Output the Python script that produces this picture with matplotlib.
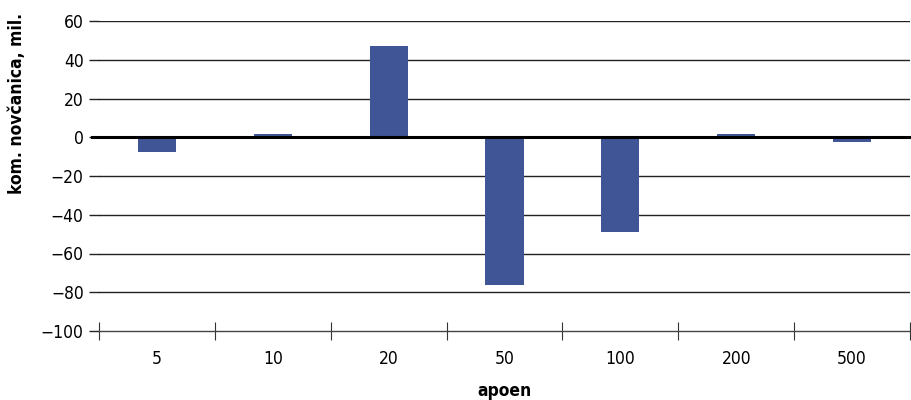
import numpy as np
import matplotlib
matplotlib.use("Agg")
import matplotlib.pyplot as plt

# podaci
apoeni = ["5", "10", "20", "50", "100", "200", "500"]
promjena = [-7.5, 1.8, 47, -76.5, -49, 1.8, -2.3]
y_ticks = [-100, -80, -60, -40, -20, 0, 20, 40, 60]

# uski font (DejaVu Sans Condensed)
plt.rcParams["font.family"] = ["DejaVu Sans"]
plt.rcParams["font.stretch"] = "condensed"

fig = plt.figure(figsize=(9.11, 4.0), dpi=100)
ax = fig.add_axes([99 / 911, 1 - 331 / 400, 811 / 911, 310 / 400])

x = np.arange(len(apoeni))
ax.bar(x, promjena, width=0.33, color="#405596", zorder=3)

ax.set_xlim(-0.5, len(apoeni) - 0.5)
ax.set_ylim(-100, 60)
ax.set_yticks(y_ticks)
ax.set_yticklabels([("\u2212" + str(-v)) if v < 0 else str(v) for v in y_ticks])

# mreza
for v in y_ticks:
    if v == -100:
        continue
    ax.axhline(v, color="#222222", lw=1.0, zorder=1)
ax.axhline(0, xmin=-7 / 811, color="black", lw=2.2, zorder=4, clip_on=False)

for s in ["top", "right", "left"]:
    ax.spines[s].set_visible(False)
ax.spines["bottom"].set_color("#444444")
ax.spines["bottom"].set_linewidth(1.0)

ax.set_xticks(x)
ax.set_xticklabels(apoeni)
ax.set_xticks(np.arange(len(apoeni) + 1) - 0.5, minor=True)
ax.tick_params(axis="x", which="major", length=0, pad=14, labelsize=12.5)
ax.tick_params(axis="x", which="minor", length=13, direction="inout",
               color="#333333", width=0.8)
ax.tick_params(axis="y", length=7, direction="out", color="#222222",
               width=1.0, pad=4, labelsize=12.5)

ax.set_xlabel("apoen", fontsize=12.5, fontweight="bold", labelpad=9.5)
ax.set_ylabel("kom. novčanica, mil.", fontsize=12.5, fontweight="bold")
ax.yaxis.set_label_coords(-0.09, 0.735)

fig.savefig("out.png", dpi=100)
